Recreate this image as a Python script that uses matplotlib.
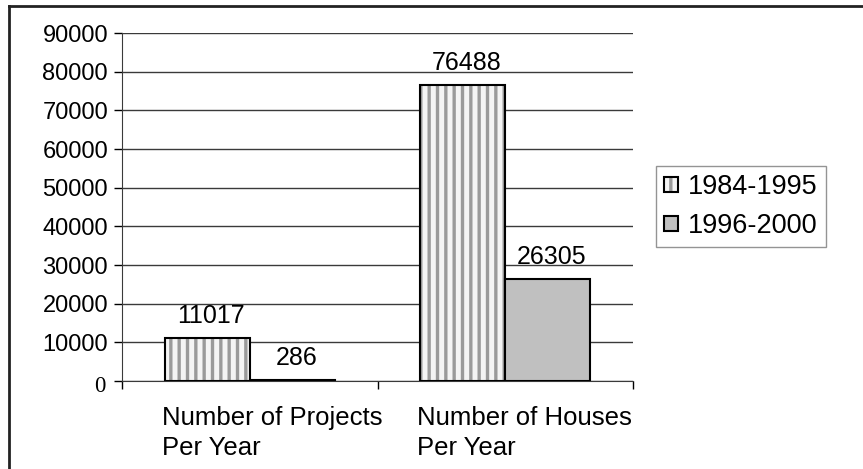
import matplotlib
matplotlib.use("Agg")
import matplotlib.pyplot as plt
from matplotlib.patches import Patch
from matplotlib.lines import Line2D
import matplotlib.transforms as mtransforms

# data
categories = ["Number of Projects\nPer Year", "Number of Houses\nPer Year"]
series_names = ["1984-1995", "1996-2000"]
values_8495 = [11017, 76488]
values_9600 = [286, 26305]
yticks = [0, 10000, 20000, 30000, 40000, 50000, 60000, 70000, 80000, 90000]

plt.rcParams["font.family"] = ["Liberation Sans", "DejaVu Sans"]
plt.rcParams["hatch.linewidth"] = 2.4

STRIPE = "#9a9a9a"
LIGHT = "#f4f4f4"

fig = plt.figure(figsize=(8.63, 4.69), dpi=100)
ax = fig.add_axes([122 / 863, 1 - 381 / 469, 511 / 863, 348 / 469])

x = list(range(len(categories)))
w = 1 / 3
# striped fill first (hatch takes the edge colour), black outline on top
ax.bar([i - w / 2 for i in x], values_8495, width=w, facecolor=LIGHT,
       edgecolor=STRIPE, linewidth=0, hatch="||", zorder=3)
b1 = ax.bar([i - w / 2 for i in x], values_8495, width=w, facecolor="none",
            edgecolor="black", linewidth=1.5, zorder=4)
b2 = ax.bar([i + w / 2 for i in x], values_9600, width=w, facecolor="#c0c0c0",
            edgecolor="black", linewidth=1.5, zorder=4)

# value labels above bars
for bars, vals in ((b1, values_8495), (b2, values_9600)):
    for r, v in zip(bars, vals):
        ax.annotate(str(v), (r.get_x() + r.get_width() / 2, v),
                    xytext=(3, 11), textcoords="offset points",
                    ha="center", va="baseline", fontsize=18)

ax.set_xlim(-0.5, len(categories) - 0.5)
ax.set_ylim(0, 90000)
ax.set_yticks(yticks)
ax.set_yticklabels([str(t) if t else "" for t in yticks], fontsize=17)
ax.tick_params(axis="y", direction="out", length=6, width=1, pad=4)
ax.yaxis.grid(True, color="#3a3a3a", linewidth=1)
ax.set_axisbelow(True)

# zero label in the odd serif face
ax.annotate("0", (0, 0), xycoords=("axes fraction", "data"),
            xytext=(-12, -4), textcoords="offset points",
            ha="right", va="center", fontsize=16.5, family="Liberation Serif")

# ticks between categories, labels drawn as text
ax.set_xticks([i - 0.5 for i in range(len(categories) + 1)])
ax.set_xticklabels([])
ax.tick_params(axis="x", direction="out", length=6, width=1)
trans = mtransforms.blended_transform_factory(ax.transData, ax.transAxes)
for i, name in enumerate(categories):
    ax.annotate(name, (i - 0.345, 0), xycoords=trans,
                xytext=(0, -18), textcoords="offset points",
                ha="left", va="top", fontsize=18.5, linespacing=1.3)

for s in ("top", "right"):
    ax.spines[s].set_visible(False)
ax.spines["left"].set_color("#3a3a3a")
ax.spines["bottom"].set_color("#3a3a3a")

handles = [(Patch(facecolor=LIGHT, edgecolor=STRIPE, linewidth=0, hatch="||"),
            Patch(facecolor="none", edgecolor="black", linewidth=1.5)),
           Patch(facecolor="#c0c0c0", edgecolor="black", linewidth=1.5)]
leg = fig.legend(handles, series_names, loc="upper left",
                 bbox_to_anchor=(656 / 863, 1 - 166 / 469),
                 fontsize=19.5, frameon=True, fancybox=False,
                 handlelength=0.5, handleheight=0.5, handletextpad=0.38,
                 borderpad=0.3, labelspacing=0.48, borderaxespad=0)
leg.get_frame().set_edgecolor("#7a7a7a")
leg.get_frame().set_linewidth(1)

# outer border, cut at right and bottom
fig.add_artist(Line2D([9 / 863, 1], [1 - 6 / 469, 1 - 6 / 469], color="#222222", lw=2))
fig.add_artist(Line2D([9 / 863, 9 / 863], [0, 1 - 6 / 469], color="#222222", lw=2))

fig.savefig("out.png", dpi=100)
